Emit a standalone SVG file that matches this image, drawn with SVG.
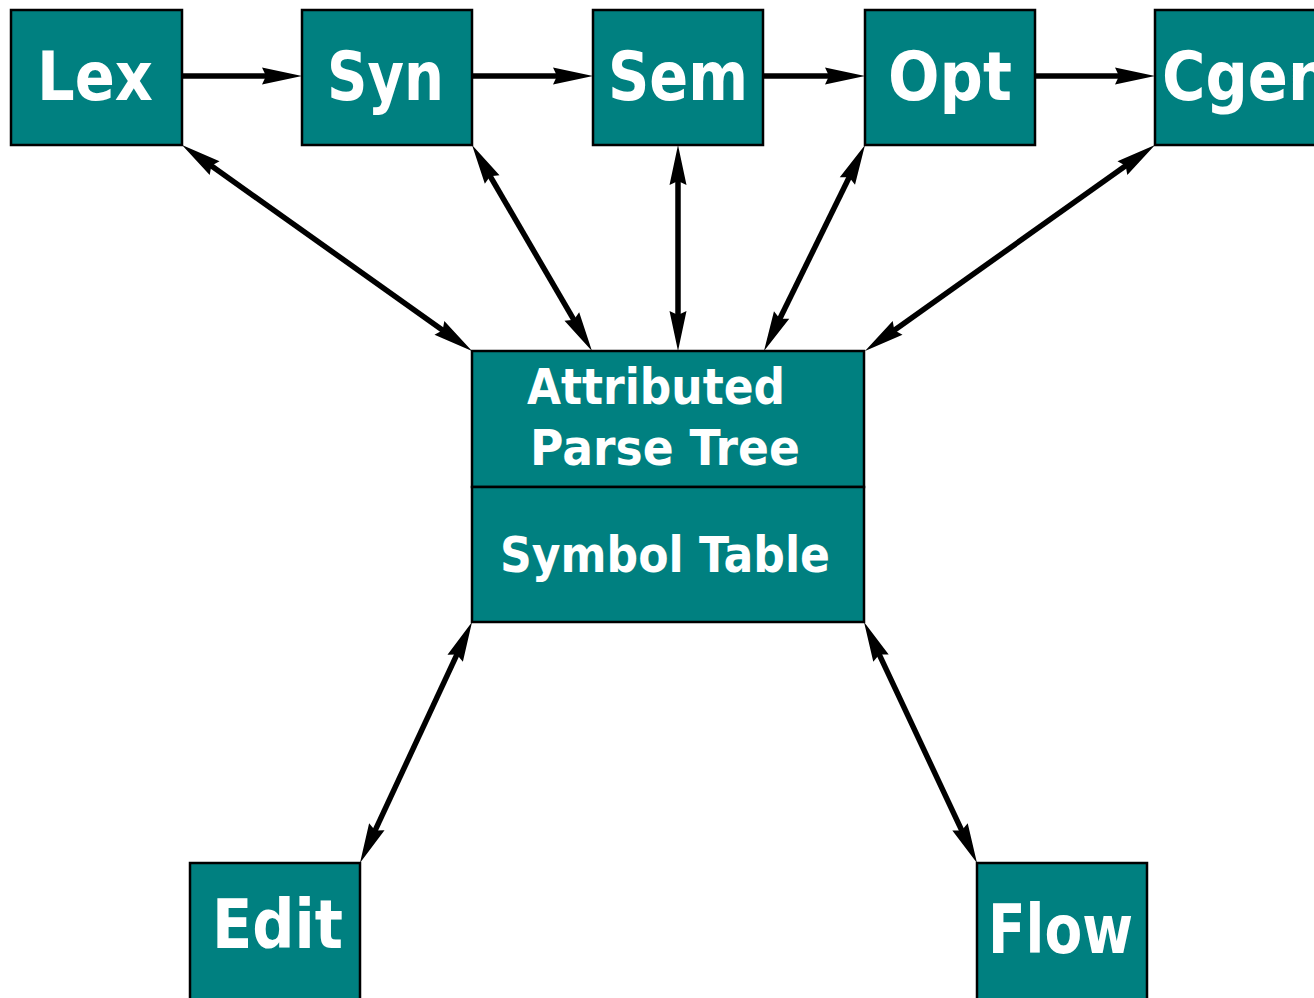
<svg xmlns="http://www.w3.org/2000/svg" width="1314" height="998" viewBox="0 0 1314 998">
<style>
.box{fill:#008080;stroke:#000;stroke-width:2.5}
.big{font-family:"DejaVu Sans","Liberation Sans",sans-serif;font-weight:bold;font-size:68px;fill:#fff}
.mid{font-family:"DejaVu Sans","Liberation Sans",sans-serif;font-weight:bold;font-size:50px;fill:#fff}
.c{stroke:#000;stroke-width:5.5;fill:none}
</style>
<defs>
<marker id="ah" markerUnits="userSpaceOnUse" viewBox="0 0 40 17" markerWidth="40" markerHeight="17" refX="20" refY="8.5" orient="auto-start-reverse" overflow="visible">
<path d="M0,0 L40,8.5 L0,17 L4,8.5 z" fill="#000"/>
</marker>
</defs>
<rect width="1314" height="998" fill="#fff"/>
<g id="connectors">
<line class="c" x1="182" y1="76" x2="282" y2="76" marker-end="url(#ah)"/>
<line class="c" x1="472" y1="76" x2="573" y2="76" marker-end="url(#ah)"/>
<line class="c" x1="763" y1="76" x2="845" y2="76" marker-end="url(#ah)"/>
<line class="c" x1="1035" y1="76" x2="1135" y2="76" marker-end="url(#ah)"/>
<line class="c" x1="198.3" y1="156.6" x2="455.7" y2="339.4" marker-start="url(#ah)" marker-end="url(#ah)"/>
<line class="c" x1="482.1" y1="162.3" x2="581.9" y2="333.7" marker-start="url(#ah)" marker-end="url(#ah)"/>
<line class="c" x1="678" y1="165" x2="678" y2="331" marker-start="url(#ah)" marker-end="url(#ah)"/>
<line class="c" x1="856.2" y1="163" x2="772.8" y2="333" marker-start="url(#ah)" marker-end="url(#ah)"/>
<line class="c" x1="1138.7" y1="156.6" x2="881.3" y2="339.4" marker-start="url(#ah)" marker-end="url(#ah)"/>
<line class="c" x1="463.6" y1="640.1" x2="368.4" y2="844.9" marker-start="url(#ah)" marker-end="url(#ah)"/>
<line class="c" x1="872.5" y1="640.1" x2="968.5" y2="844.9" marker-start="url(#ah)" marker-end="url(#ah)"/>
</g>
<g id="lex"><rect class="box" x="11" y="10" width="171" height="135"/><text class="big" x="37" y="100" textLength="116" lengthAdjust="spacingAndGlyphs">Lex</text></g>
<g id="syn"><rect class="box" x="302" y="10" width="170" height="135"/><text class="big" x="327" y="100" textLength="117" lengthAdjust="spacingAndGlyphs">Syn</text></g>
<g id="sem"><rect class="box" x="593" y="10" width="170" height="135"/><text class="big" x="608" y="100" textLength="140" lengthAdjust="spacingAndGlyphs">Sem</text></g>
<g id="opt"><rect class="box" x="865" y="10" width="170" height="135"/><text class="big" x="888" y="100" textLength="124" lengthAdjust="spacingAndGlyphs">Opt</text></g>
<g id="cgen"><rect class="box" x="1155" y="10" width="170" height="135"/><text class="big" x="1162" y="100" textLength="168" lengthAdjust="spacingAndGlyphs">Cgen</text></g>
<g id="center">
<rect class="box" x="472" y="351" width="392" height="136"/>
<rect class="box" x="472" y="487" width="392" height="135"/>
<text class="mid" x="527" y="404" textLength="258" lengthAdjust="spacingAndGlyphs">Attributed</text>
<text class="mid" x="530" y="465" textLength="270" lengthAdjust="spacingAndGlyphs">Parse Tree</text>
<text class="mid" x="500" y="572" textLength="330" lengthAdjust="spacingAndGlyphs">Symbol Table</text>
</g>
<g id="edit"><rect class="box" x="190" y="863" width="170" height="145"/><text class="big" x="212" y="948" textLength="131" lengthAdjust="spacingAndGlyphs">Edit</text></g>
<g id="flow"><rect class="box" x="977" y="863" width="170" height="145"/><text class="big" x="988" y="953" textLength="145" lengthAdjust="spacingAndGlyphs">Flow</text></g>
</svg>
